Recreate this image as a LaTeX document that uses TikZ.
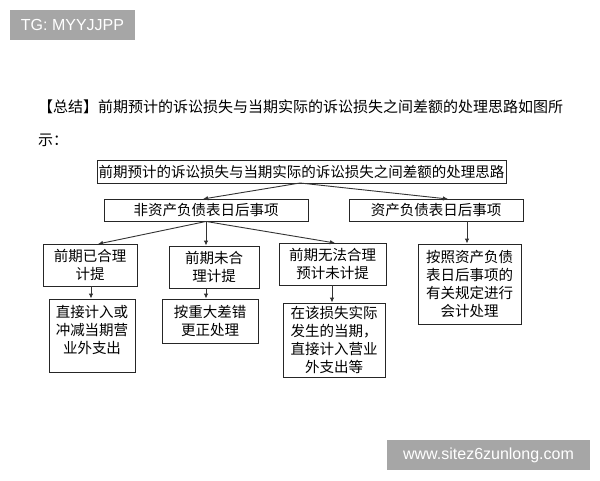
\documentclass[tikz,border=0pt]{standalone}
\usepackage{fontspec}
\setsansfont{Liberation Sans}
\newfontfamily\cjk{Noto Sans CJK SC}
\usetikzlibrary{arrows.meta}
\begin{document}
\begin{tikzpicture}[x=1pt,y=-1pt,
  box/.style={draw=black!85,line width=0.9pt,inner sep=0pt,align=center,
    font=\fontsize{14.5}{18}\selectfont\cjk},
  conn/.style={draw=black!80,line width=0.9pt,-{Latex[length=5pt,width=4.5pt]}},
  tag/.style={fill=black!35,text=white,inner sep=0pt,font=\fontsize{16}{18}\selectfont\sffamily},
  txt/.style={anchor=west,inner sep=0pt,font=\fontsize{15}{18}\selectfont\cjk}]
\useasboundingbox (0,0) rectangle (600,480);
\fill[white] (0,0) rectangle (600,480);
% tags
\node[tag,minimum width=125,minimum height=30] (tg) at (72.5,25) {TG: MYYJJPP};
\node[tag,minimum width=203,minimum height=30] (web) at (488.5,455) {www.sitez6zunlong.com};
% heading
\node[txt] (h1) at (38,107) {【总结】前期预计的诉讼损失与当期实际的诉讼损失之间差额的处理思路如图所};
\node[txt] (h2) at (38,140) {示：};
% boxes
\node[box,minimum width=409,minimum height=23] (top) at (301.5,171.5) {前期预计的诉讼损失与当期实际的诉讼损失之间差额的处理思路};
\node[box,minimum width=204,minimum height=22] (l2a) at (206,210) {非资产负债表日后事项};
\node[box,minimum width=174,minimum height=22] (l2b) at (436,210) {资产负债表日后事项};
\node[box,minimum width=94,minimum height=42] (a) at (90,265) {前期已合理\\计提};
\node[box,minimum width=90,minimum height=42] (b) at (214,267) {前期未合\\理计提};
\node[box,minimum width=107,minimum height=42] (c) at (332.5,264) {前期无法合理\\预计未计提};
\node[box,minimum width=103,minimum height=80] (d) at (469.5,284) {按照资产负债\\表日后事项的\\有关规定进行\\会计处理};
\node[box,minimum width=86,minimum height=73] (a2) at (92,335.5) {};
\node[box,draw=none] (a2t) at (92,330) {直接计入或\\冲减当期营\\业外支出};
\node[box,minimum width=96,minimum height=44] (b2) at (210,321) {按重大差错\\更正处理};
\node[box,minimum width=102,minimum height=74] (c2) at (334,340) {在该损失实际\\发生的当期，\\直接计入营业\\外支出等};
% connectors
\coordinate (topb) at (300,183);
\draw[conn] (topb) -- (203,199);
\draw[conn] (topb) -- (448,199);
\draw[conn] (l2a.south) -- (98,244);
\draw[conn] (l2a.south) -- (b.north -| l2a.south);
\draw[conn] (l2a.south) -- (335,243);
\draw[conn] (l2b.south -| 467,0) -- (d.north -| 467,0);
\draw[conn] (a.south -| 91,0) -- (a2.north -| 91,0);
\draw[conn] (b.south -| 206,0) -- (b2.north -| 206,0);
\draw[conn] (c.south -| 332,0) -- (c2.north -| 332,0);
\end{tikzpicture}
\end{document}
